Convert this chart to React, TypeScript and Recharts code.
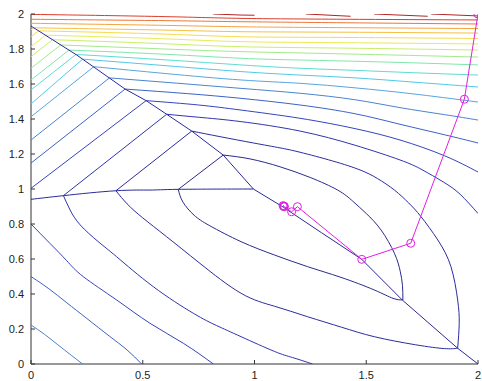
import { ScatterChart, Scatter, XAxis, YAxis } from 'recharts';

type Pt = [number, number];

const xTicks = [0, 0.5, 1, 1.5, 2];
const yTicks = [0, 0.2, 0.4, 0.6, 0.8, 1, 1.2, 1.4, 1.6, 1.8, 2];

// the two kink lines of the surface
const diagonalKink: Pt[] = [
  [0, 1.931], [0.204, 1.766], [0.421, 1.571], [0.515, 1.505], [0.607, 1.427],
  [0.719, 1.331], [0.86, 1.194], [0.995, 1.0], [1.128, 0.897], [1.3, 0.75],
  [1.48, 0.598], [1.661, 0.366], [1.909, 0.09], [2.0, 0.0],
];
const flatKink: Pt[] = [
  [0, 0.941], [0.145, 0.962], [0.38, 0.99], [0.532, 0.994], [0.659, 0.998], [0.995, 1.0],
];

// contour levels, innermost first; each level split where it bends at a kink
const level1Left: Pt[] = [[0.86, 1.194], [0.659, 0.998]];
const level1Low: Pt[] = [
  [0.659, 0.998], [0.68, 0.925], [0.73, 0.85], [0.8, 0.79], [0.94, 0.699],
  [1.089, 0.623], [1.238, 0.556], [1.387, 0.495], [1.536, 0.423], [1.62, 0.375], [1.664, 0.366],
];
const level1High: Pt[] = [
  [1.664, 0.366], [1.662, 0.45], [1.652, 0.53], [1.626, 0.633], [1.566, 0.766], [1.5, 0.86],
  [1.44, 0.93], [1.372, 0.994], [1.249, 1.066], [1.114, 1.127], [0.98, 1.172], [0.86, 1.194],
];
const level2Left: Pt[] = [[0.719, 1.331], [0.38, 0.99]];
const level2Low: Pt[] = [
  [0.38, 0.99], [0.43, 0.915], [0.5, 0.835], [0.607, 0.727], [0.756, 0.575],
  [0.94, 0.404], [1.09, 0.33], [1.238, 0.27], [1.39, 0.21], [1.536, 0.156], [1.72, 0.11],
  [1.85, 0.088], [1.909, 0.09],
];
const level2High: Pt[] = [
  [1.909, 0.09], [1.916, 0.233], [1.909, 0.366], [1.879, 0.556], [1.82, 0.709],
  [1.745, 0.842], [1.69, 0.92], [1.626, 0.994], [1.55, 1.06], [1.472, 1.109], [1.35, 1.16],
  [1.204, 1.21], [1.114, 1.235], [0.995, 1.263], [0.846, 1.299], [0.719, 1.331],
];
const level3Low: Pt[] = [
  [1.26, 0], [1.17, 0.037], [1.089, 0.072], [0.94, 0.156], [0.83, 0.22], [0.726, 0.29],
  [0.547, 0.442], [0.383, 0.613], [0.3, 0.7], [0.22, 0.795], [0.175, 0.88], [0.145, 0.962],
];
const level3Left: Pt[] = [[0.145, 0.962], [0.607, 1.427]];
const level3High: Pt[] = [
  [0.607, 1.427], [0.75, 1.41], [0.94, 1.385], [1.204, 1.331], [1.45, 1.25], [1.651, 1.166],
  [1.75, 1.11], [1.845, 1.04], [1.92, 0.97], [2.0, 0.86],
];
const level4Low: Pt[] = [
  [0, 0.8], [0.085, 0.689], [0.16, 0.59], [0.234, 0.499], [0.383, 0.366], [0.532, 0.233],
  [0.682, 0.118], [0.816, 0],
];
const level4Left: Pt[] = [[0, 1.004], [0.515, 1.505]];
const level4High: Pt[] = [
  [0.515, 1.505], [0.75, 1.48], [0.94, 1.451], [1.204, 1.404], [1.45, 1.345],
  [1.651, 1.28], [1.85, 1.19], [2.0, 1.097],
];
const level5Low: Pt[] = [
  [0, 0.5], [0.08, 0.43], [0.16, 0.35], [0.25, 0.26], [0.35, 0.16], [0.43, 0.08], [0.495, 0],
];
const level5Left: Pt[] = [[0, 1.148], [0.421, 1.571]];
const level5High: Pt[] = [
  [0.421, 1.571], [0.7, 1.545], [0.94, 1.518], [1.204, 1.48], [1.45, 1.43],
  [1.651, 1.37], [1.85, 1.31], [2.0, 1.263],
];
const level6Low: Pt[] = [[0, 0.223], [0.06, 0.17], [0.12, 0.11], [0.18, 0.05], [0.231, 0]];
const level6Left: Pt[] = [[0, 1.28], [0.351, 1.635]];
const level6High: Pt[] = [
  [0.351, 1.635], [0.65, 1.605], [0.94, 1.575], [1.204, 1.547], [1.45, 1.51],
  [1.651, 1.465], [1.85, 1.425], [2.0, 1.394],
];
const level7Left: Pt[] = [[0, 1.413], [0.281, 1.699]];
const level7High: Pt[] = [
  [0.281, 1.699], [0.6, 1.66], [0.94, 1.623], [1.204, 1.604], [1.45, 1.578], [1.7, 1.545], [2.0, 1.497],
];
const level8Left: Pt[] = [[0, 1.486], [0.231, 1.742]];
const level8High: Pt[] = [
  [0.231, 1.742], [0.6, 1.705], [0.94, 1.671], [1.204, 1.651], [1.45, 1.635], [1.7, 1.612], [2.0, 1.583],
];
const level9Left: Pt[] = [[0, 1.566], [0.201, 1.769]];
const level9High: Pt[] = [
  [0.201, 1.769], [0.6, 1.738], [0.94, 1.709], [1.204, 1.69], [1.45, 1.678], [1.7, 1.665], [2.0, 1.651],
];
const level10Left: Pt[] = [[0, 1.623], [0.17, 1.794]];
const level10High: Pt[] = [[0.17, 1.794], [0.6, 1.77], [0.94, 1.747], [1.204, 1.737], [1.6, 1.725], [2.0, 1.709]];
const level11Left: Pt[] = [[0, 1.69], [0.133, 1.823]];
const level11High: Pt[] = [[0.133, 1.823], [0.6, 1.8], [0.94, 1.785], [1.4, 1.772], [2.0, 1.754]];
const level12Left: Pt[] = [[0, 1.756], [0.096, 1.853]];
const level12High: Pt[] = [[0.096, 1.853], [0.6, 1.83], [0.94, 1.813], [1.4, 1.805], [2.0, 1.794]];
const level13Left: Pt[] = [[0, 1.813], [0.065, 1.879]];
const level13High: Pt[] = [[0.065, 1.879], [0.6, 1.858], [0.94, 1.842], [1.4, 1.836], [2.0, 1.829]];
const level14Left: Pt[] = [[0, 1.87], [0.034, 1.904]];
const level14High: Pt[] = [[0.034, 1.904], [0.6, 1.885], [0.94, 1.87], [1.4, 1.866], [2.0, 1.86]];
const level15Left: Pt[] = [[0, 1.909], [0.013, 1.921]];
const level15High: Pt[] = [[0.013, 1.921], [0.6, 1.908], [0.94, 1.899], [1.4, 1.896], [2.0, 1.891]];
const level16: Pt[] = [[0, 1.947], [0.6, 1.935], [0.94, 1.927], [1.4, 1.922], [2.0, 1.917]];
const level17: Pt[] = [[0, 1.97], [0.6, 1.962], [0.94, 1.956], [1.4, 1.95], [2.0, 1.943]];
const level18: Pt[] = [[0, 1.998], [0.6, 1.985], [0.94, 1.975], [1.4, 1.97], [2.0, 1.966]];
const level19a: Pt[] = [[0.815, 2.0], [0.94, 1.994], [1.0, 1.993]];
const level19b: Pt[] = [[1.23, 2.0], [1.43, 1.987]];
const level19c: Pt[] = [[1.535, 2.0], [1.775, 1.987]];
const level19d: Pt[] = [[1.79, 2.0], [2.0, 1.989]];

const levelColors = [
  '#2a2a8c', '#2c2ca0', '#3034ae', '#3444bc', '#3c62c6', '#4a84d0', '#58a6dc',
  '#52c8e6', '#5edcd0', '#80e6ac', '#a2ea8a', '#c8ee6a', '#e8ec52', '#f6da50',
  '#f6c046', '#f6a23e', '#ee7636', '#dc3c2a', '#b22424',
];

// optimiser path
const pathPts: Pt[] = [
  [2.0, 2.0], [1.939, 1.513], [1.699, 0.69], [1.48, 0.598], [1.192, 0.899],
  [1.166, 0.87], [1.134, 0.899], [1.128, 0.905], [1.132, 0.902], [1.13, 0.9],
];

const contours: { pts: Pt[]; level: number; smooth?: boolean }[] = [
  { pts: level1Left, level: 1 }, { pts: level1Low, level: 1, smooth: true }, { pts: level1High, level: 1, smooth: true },
  { pts: level2Left, level: 2 }, { pts: level2Low, level: 2, smooth: true }, { pts: level2High, level: 2, smooth: true },
  { pts: level3Low, level: 3, smooth: true }, { pts: level3Left, level: 3 }, { pts: level3High, level: 3, smooth: true },
  { pts: level4Low, level: 4, smooth: true }, { pts: level4Left, level: 4 }, { pts: level4High, level: 4, smooth: true },
  { pts: level5Low, level: 5, smooth: true }, { pts: level5Left, level: 5 }, { pts: level5High, level: 5, smooth: true },
  { pts: level6Low, level: 6, smooth: true }, { pts: level6Left, level: 6 }, { pts: level6High, level: 6, smooth: true },
  { pts: level7Left, level: 7 }, { pts: level7High, level: 7, smooth: true },
  { pts: level8Left, level: 8 }, { pts: level8High, level: 8, smooth: true },
  { pts: level9Left, level: 9 }, { pts: level9High, level: 9, smooth: true },
  { pts: level10Left, level: 10 }, { pts: level10High, level: 10, smooth: true },
  { pts: level11Left, level: 11 }, { pts: level11High, level: 11, smooth: true },
  { pts: level12Left, level: 12 }, { pts: level12High, level: 12, smooth: true },
  { pts: level13Left, level: 13 }, { pts: level13High, level: 13, smooth: true },
  { pts: level14Left, level: 14 }, { pts: level14High, level: 14, smooth: true },
  { pts: level15Left, level: 15 }, { pts: level15High, level: 15, smooth: true },
  { pts: level16, level: 16, smooth: true }, { pts: level17, level: 17, smooth: true },
  { pts: level18, level: 18, smooth: true },
  { pts: level19a, level: 19 }, { pts: level19b, level: 19 }, { pts: level19c, level: 19 }, { pts: level19d, level: 19 },
];

const toXY = (pts: Pt[]) => pts.map(([x, y]) => ({ x, y }));
const noDot = () => <g />;

const XTick = ({ x, y, payload }: any) => (
  <g>
    <line x1={x} y1={y} x2={x} y2={y - 4} stroke="#333" />
    <text x={x} y={y + 15} textAnchor="middle" fontSize={11} fill="#222">{payload.value}</text>
  </g>
);

const YTick = ({ x, y, payload }: any) => (
  <g>
    <line x1={x} y1={y} x2={x + 4} y2={y} stroke="#333" />
    <text x={x - 7} y={y + 4} textAnchor="end" fontSize={11} fill="#222">{payload.value}</text>
  </g>
);

export default function App() {
  return (
    <div style={{ position: 'absolute', left: 0, top: 0, width: 482, height: 381, background: '#fff', fontFamily: '"Liberation Sans", Arial, sans-serif' }}>
      <ScatterChart width={482} height={381} margin={{ top: 14, right: 4, bottom: 0, left: 0 }}>
        <XAxis
          type="number" dataKey="x" domain={[0, 2]} ticks={xTicks} interval={0}
          allowDataOverflow height={17} tickSize={0} tickMargin={0} tickLine={false}
          axisLine={{ stroke: '#333' }} tick={<XTick />}
        />
        <YAxis
          type="number" dataKey="y" domain={[0, 2]} ticks={yTicks} interval={0}
          allowDataOverflow width={31} tickSize={0} tickMargin={0} tickLine={false}
          axisLine={{ stroke: '#333' }} tick={<YTick />}
        />
        {contours.map((c, i) => (
          <Scatter
            key={'c' + i}
            data={toXY(c.pts)}
            fill={levelColors[c.level - 1]}
            line={{ stroke: levelColors[c.level - 1], strokeWidth: 1 }}
            lineJointType={c.smooth ? 'natural' : 'linear'}
            shape={noDot}
            isAnimationActive={false}
          />
        ))}
        <Scatter data={toXY(diagonalKink)} fill="#2a2a9c" line={{ stroke: '#2a2a9c', strokeWidth: 1 }} shape={noDot} isAnimationActive={false} />
        <Scatter data={toXY(flatKink)} fill="#2a2a9c" line={{ stroke: '#2a2a9c', strokeWidth: 1 }} lineJointType="natural" shape={noDot} isAnimationActive={false} />
        <Scatter
          data={toXY(pathPts)}
          fill="#e020e0"
          line={{ stroke: '#e020e0', strokeWidth: 1 }}
          shape={(p: any) => <circle cx={p.cx} cy={p.cy} r={4} fill="none" stroke="#e020e0" strokeWidth={1} />}
          isAnimationActive={false}
        />
      </ScatterChart>
    </div>
  );
}
